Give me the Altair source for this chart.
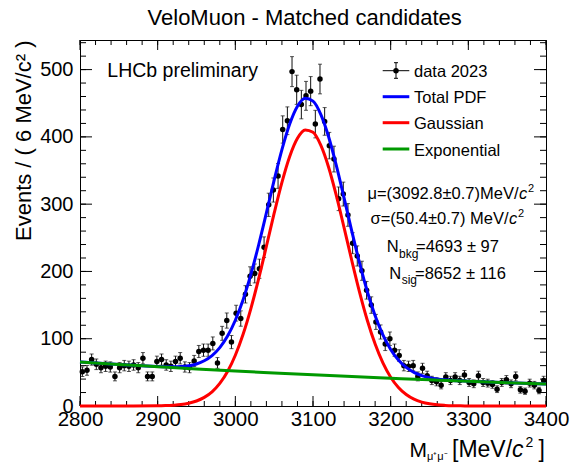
import altair as alt
import pandas as pd
import numpy as np

FONT = "Liberation Sans"

# ---------------- data ----------------
bin_width = 6
bin_start = 2800
counts = [51, 53, 69, 62, 57, 59, 58, 44, 57, 60,
          59, 61, 57, 71, 44, 44, 66, 69, 61, 59,
          66, 71, 58, 57, 67, 81, 83, 83, 93, 64,
          108, 127, 95, 138, 130, 166, 193, 197, 204, 236,
          299, 321, 342, 411, 424, 497, 470, 448, 461, 468,
          419, 486, 423, 387, 367, 308, 315, 284, 242, 223,
          201, 172, 150, 125, 110, 92, 100, 83, 75, 60,
          59, 60, 44, 56, 45, 38, 36, 31, 43, 38,
          43, 38, 46, 35, 33, 45, 35, 34, 32, 25,
          35, 39, 33, 44, 24, 22, 34, 31, 23, 38]
mass = [bin_start + bin_width / 2 + bin_width * i for i in range(len(counts))]

curve_mass = [2800, 2850, 2900, 2910, 2920, 2930, 2940, 2950, 2960, 2970, 2980, 2990,
              3000, 3010, 3020, 3030, 3040, 3050, 3060, 3070, 3080, 3090,
              3100, 3110, 3120, 3130, 3140, 3150, 3160, 3170, 3180, 3190,
              3200, 3210, 3220, 3230, 3240, 3250, 3260, 3270, 3280, 3290,
              3300, 3350, 3400]
gaussian = [0, 0, 0.3, 0.6, 1.2, 2.2, 4.2, 7.4, 12.8, 21.1, 33.6, 51.3,
            75.5, 106.6, 144.8, 189.1, 237.4, 286.6, 332.5, 371.0, 398.0, 410.4,
            406.8, 387.7, 355.3, 313.0, 265.1, 215.9, 169.0, 127.1, 92.0, 64.0,
            42.8, 27.5, 17.0, 10.1, 5.8, 3.2, 1.7, 0.9, 0.4, 0.2,
            0.1, 0, 0]
total_pdf = [65.5, 61.8, 58.6, 58.3, 58.2, 58.6, 59.9, 62.5, 67.2, 74.9, 86.8, 103.9,
             127.5, 158.0, 195.6, 239.3, 287.0, 335.7, 381.0, 419.0, 445.4, 457.3,
             453.1, 433.5, 400.6, 357.7, 309.3, 259.6, 212.2, 169.8, 134.2, 105.8,
             84.1, 68.3, 57.3, 50.0, 45.2, 42.2, 40.2, 38.9, 38.0, 37.4,
             36.9, 34.7, 32.8]
expo_mass = [2800, 2850, 2900, 2950, 3000, 3050, 3100, 3150, 3200, 3250, 3300, 3350, 3400]
exponential = [65.5, 61.8, 58.4, 55.1, 52.0, 49.1, 46.3, 43.7, 41.3, 39.0, 36.8, 34.7, 32.8]

x_major = [2800, 2900, 3000, 3100, 3200, 3300, 3400]
x_minor = list(range(2800, 3401, 20))
y_major = [0, 100, 200, 300, 400, 500]
y_minor = list(range(0, 541, 20))

# ---------------- layout ----------------
W, H = 466, 366
L, T = 80, 40

df = pd.DataFrame({"mass": mass, "n": counts})
df["lo"] = df["n"] - np.sqrt(df["n"])
df["hi"] = df["n"] + np.sqrt(df["n"])
curves = pd.DataFrame({"mass": curve_mass, "gauss": gaussian, "total": total_pdf})
expo = pd.DataFrame({"mass": expo_mass, "bkg": exponential})

xs = alt.Scale(domain=[2800, 3400], nice=False, zero=False)
ys = alt.Scale(domain=[0, 544], nice=False, zero=False)

x_lab_axis = alt.Axis(orient="bottom", values=x_major, ticks=False, tickSize=0,
                      domain=False, grid=False, title=None, labelFont=FONT, format="d",
                      labelFontSize=20.5, labelColor="black", labelPadding=3,
                      labelFlush=False, labelOverlap=False)
y_lab_axis = alt.Axis(orient="left", values=y_major, ticks=False, tickSize=0,
                      domain=False, grid=False, labelFont=FONT, labelFontSize=20,
                      labelColor="black", labelPadding=7, labelFlush=False,
                      labelOverlap=False, format="d",
                      title="Events / ( 6 MeV/c² )", titleFont=FONT,
                      titleFontSize=22, titleFontWeight="normal", titleColor="black",
                      titleAngle=270, titleAlign="right", titleBaseline="middle",
                      titleX=23 - L, titleY=0)

points = alt.Chart(df).mark_circle(size=30, color="black", opacity=1).encode(
    x=alt.X("mass:Q", scale=xs, axis=x_lab_axis),
    y=alt.Y("n:Q", scale=ys, axis=y_lab_axis),
)
errs = alt.Chart(df).mark_rule(color="#111111", strokeWidth=1).encode(
    x=alt.X("mass:Q", scale=xs),
    y=alt.Y("lo:Q", scale=ys),
    y2="hi:Q",
)
caps_lo = alt.Chart(df).mark_tick(orient="horizontal", size=4, thickness=1, color="#111111").encode(
    x=alt.X("mass:Q", scale=xs), y=alt.Y("lo:Q", scale=ys))
caps_hi = alt.Chart(df).mark_tick(orient="horizontal", size=4, thickness=1, color="#111111").encode(
    x=alt.X("mass:Q", scale=xs), y=alt.Y("hi:Q", scale=ys))

blue = alt.Chart(curves).mark_line(color="#0000ff", strokeWidth=3, interpolate="monotone").encode(
    x=alt.X("mass:Q", scale=xs), y=alt.Y("total:Q", scale=ys))
red = alt.Chart(curves).mark_line(color="#ff0000", strokeWidth=3, interpolate="monotone").encode(
    x=alt.X("mass:Q", scale=xs), y=alt.Y("gauss:Q", scale=ys))
green = alt.Chart(expo).mark_line(color="#009900", strokeWidth=3, interpolate="monotone").encode(
    x=alt.X("mass:Q", scale=xs), y=alt.Y("bkg:Q", scale=ys))

# inward ROOT-style ticks on all four sides of the frame
xmaj_df = pd.DataFrame({"v": x_major})
xmin_df = pd.DataFrame({"v": x_minor})
ymaj_df = pd.DataFrame({"v": y_major})
ymin_df = pd.DataFrame({"v": y_minor})


def xticks(d, y0, y1):
    return alt.Chart(d).mark_rule(color="black", strokeWidth=1).encode(
        x=alt.X("v:Q", scale=xs), y=alt.value(y0), y2=alt.value(y1))


def yticks(d, x0, x1):
    return alt.Chart(d).mark_rule(color="black", strokeWidth=1).encode(
        y=alt.Y("v:Q", scale=ys), x=alt.value(x0), x2=alt.value(x1))


ticks = [
    xticks(xmaj_df, H, H - 10), xticks(xmin_df, H, H - 5),
    xticks(xmaj_df, 0, 10), xticks(xmin_df, 0, 5),
    yticks(ymaj_df, 0, 12), yticks(ymin_df, 0, 6),
    yticks(ymaj_df, W, W - 12), yticks(ymin_df, W, W - 6),
]

one = pd.DataFrame({"t": [""]})


def txt(text, x, y, size, align="left", italic=False):
    return alt.Chart(pd.DataFrame({"t": [text]})).mark_text(
        align=align, baseline="alphabetic", font=FONT, fontSize=size,
        fontStyle="italic" if italic else "normal", color="black"
    ).encode(x=alt.value(x - L), y=alt.value(y - T), text="t:N")


def hline(x1, x2, y, color, width):
    return alt.Chart(one).mark_rule(color=color, strokeWidth=width).encode(
        x=alt.value(x1 - L), x2=alt.value(x2 - L), y=alt.value(y - T))


def vline(x, y1, y2, color, width):
    return alt.Chart(one).mark_rule(color=color, strokeWidth=width).encode(
        x=alt.value(x - L), y=alt.value(y1 - T), y2=alt.value(y2 - T))


annotations = [
    txt("VeloMuon - Matched candidates", 304.7, 25, 22, "center"),
    txt("LHCb preliminary", 107.3, 76.8, 19.5),
    # legend
    hline(382.7, 409.3, 70.7, "black", 1),
    vline(396, 62.7, 78.3, "black", 1),
    hline(394, 398, 62.7, "black", 1),
    hline(394, 398, 78.3, "black", 1),
    alt.Chart(one).mark_circle(size=30, color="black", opacity=1).encode(
        x=alt.value(396 - L), y=alt.value(70.7 - T)),
    txt("data 2023", 414, 76.7, 16.5),
    hline(382.7, 409.3, 96.7, "#0000ff", 3),
    txt("Total PDF", 414, 103, 16.5),
    hline(382.7, 409.3, 122.7, "#ff0000", 3),
    txt("Gaussian", 414, 129.3, 16.5),
    hline(382.7, 409.3, 149, "#009900", 3),
    txt("Exponential", 414, 155.7, 16.5),
    # fit results
    txt("μ=(3092.8±0.7)MeV/", 518.5, 198.6, 16.5, "right"),
    txt("c", 519, 198.6, 16.5, "left", True),
    txt("2", 528, 191.5, 11),
    txt("σ=(50.4±0.7) MeV/", 508.5, 224.2, 16.5, "right"),
    txt("c", 509, 224.2, 16.5, "left", True),
    txt("2", 518, 217, 11),
    txt("N", 386.7, 252, 16.5),
    txt("bkg", 399, 257.5, 12),
    txt("=4693 ± 97", 416, 252, 16.5),
    txt("N", 389.3, 278.6, 16.5),
    txt("sig", 401.7, 284, 12),
    txt("=8652 ± 116", 415, 278.6, 16.5),
    # x-axis title
    txt("M", 409.5, 456.5, 21),
    txt("μ⁺μ⁻", 427, 460, 11),
    txt("[MeV/", 452, 456.5, 23),
    txt("c", 512, 456.5, 23, "left", True),
    txt("2", 525.5, 447, 14),
    txt("]", 545, 456.5, 23, "right"),
]

chart = alt.layer(*ticks, errs, caps_lo, caps_hi, points, blue, red, green, *annotations).properties(
    width=W, height=H,
    autosize=alt.AutoSizeParams(type="none"),
    padding={"left": L, "top": T, "right": 571 - L - W, "bottom": 463 - T - H},
    background="white",
).configure_view(stroke="black", strokeWidth=1)

chart.save("out.html", embed_options={"renderer": "svg", "actions": False})
